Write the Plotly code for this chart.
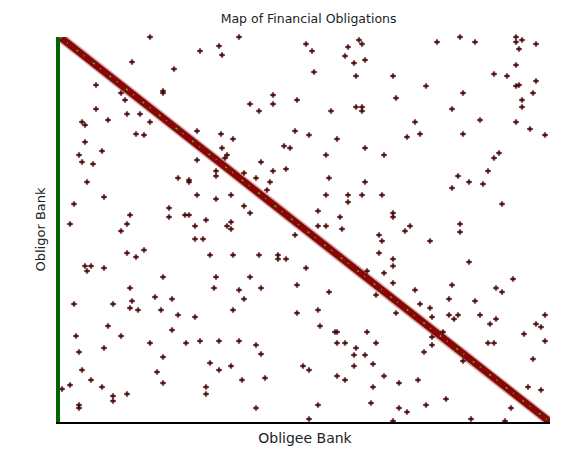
import plotly.graph_objects as go

# Matrix size (obligee index along x, obligor index along y)
n_obligee = 490
n_obligor = 385

# Off-diagonal obligations: (obligee index, obligor index)
obligee = [
    90, 179, 159, 162, 140, 72, 114, 36, 103, 103, 61, 65, 213, 237, 190, 213, 199, 36, 67, 80,
    22, 25, 48, 90, 76, 84, 235, 137, 161, 173, 25, 42, 224, 230, 19, 22, 33, 162, 167, 165,
    137, 201, 213, 226, 156, 156, 184, 196, 118, 129, 129, 210, 27, 44, 137, 171, 207, 156, 14, 184,
    190, 109, 109, 70, 125, 129, 146, 171, 171, 167, 67, 10, 135,
    246, 252, 254, 299, 302, 288, 285, 294, 305, 296, 333, 377, 400, 415, 456, 456, 462, 476, 459, 456,
    434, 447, 476, 456, 459, 473, 462, 462, 403, 366, 336, 392, 420, 456, 470, 485, 403, 355, 360, 347,
    271, 296, 302, 302, 249, 277, 305, 324, 266, 269, 305, 266, 288, 302, 322, 288, 258, 280, 333, 333,
    258, 266, 282, 350, 400, 439, 434, 428, 398, 409, 423, 392, 442,
    61, 135, 143, 235, 67, 76, 84, 25, 31, 27, 44, 150, 173, 199, 218, 218, 226, 103, 156, 190,
    70, 154, 179, 201, 237, 14, 53, 72, 70, 78, 95, 112, 101, 184, 173, 118, 135, 237, 48, 16,
    61, 112, 44, 19, 90, 126, 140, 159, 179, 196, 201, 103, 22, 31, 10, 2, 42, 53, 53, 67,
    97, 103, 150, 159, 171, 182, 205, 146, 146, 19, 19, 196, 243,
    319, 322, 319, 345, 370, 400, 409, 333, 333, 246, 307, 324, 333, 453, 392, 436, 442, 355, 316, 269,
    389, 415, 360, 370, 336, 372, 389, 398, 394, 420, 436, 430, 485, 476, 481, 485, 464, 258, 260, 275,
    277, 307, 277, 285, 316, 296, 294, 305, 294, 313, 249, 277, 285, 324, 313, 339, 358, 364, 372, 383,
    372, 403, 428, 434, 473, 468, 481, 386, 366, 258, 311, 339, 347, 451, 249, 333, 411, 445,
]
obligor = [
    0, 0, 9, 18, 14, 25, 32, 48, 54, 56, 56, 63, 58, 63, 67, 67, 74, 72, 77, 77,
    85, 88, 83, 85, 97, 98, 94, 94, 97, 102, 105, 114, 109, 111, 118, 125, 127, 111, 118, 121,
    123, 125, 134, 132, 134, 139, 136, 141, 141, 143, 145, 145, 145, 160, 158, 158, 153, 162, 167, 169,
    176, 171, 180, 178, 178, 178, 183, 185, 192, 189, 187, 187, 189,
    7, 14, 35, 3, 7, 10, 19, 26, 23, 39, 39, 5, 0, 5, 0, 5, 3, 7, 12, 28,
    37, 39, 44, 49, 48, 56, 63, 70, 56, 49, 61, 72, 83, 85, 92, 98, 97, 85, 97, 100,
    74, 70, 70, 74, 98, 102, 111, 118, 118, 141, 145, 158, 158, 158, 158, 165, 174, 180, 176, 180,
    189, 189, 192, 189, 187, 116, 121, 134, 139, 145, 147, 151, 167,
    194, 202, 202, 198, 216, 220, 213, 229, 229, 234, 231, 218, 218, 218, 218, 222, 222, 240, 240, 240,
    251, 251, 253, 251, 248, 267, 267, 264, 271, 273, 260, 262, 273, 262, 273, 278, 280, 276, 289, 299,
    299, 293, 311, 315, 306, 306, 304, 304, 304, 308, 317, 320, 333, 343, 348, 352, 350, 359, 364, 357,
    335, 346, 326, 333, 329, 343, 341, 350, 357, 368, 371, 371, 329,
    198, 204, 216, 194, 204, 195, 225, 222, 229, 231, 234, 236, 246, 242, 248, 251, 255, 253, 258, 255,
    262, 264, 267, 271, 276, 280, 278, 278, 282, 278, 282, 287, 278, 287, 290, 304, 297, 273, 289, 295,
    295, 295, 306, 306, 306, 311, 318, 318, 329, 327, 333, 339, 343, 339, 350, 346, 343, 315, 308, 295,
    300, 324, 306, 306, 322, 350, 353, 362, 368, 368, 366, 371, 375, 371, 382, 384, 382, 384,
]

# Diagonal (self/neighbour obligations) from first to last bank
diag_obligee = [0, n_obligee]
diag_obligor = [0, n_obligor]

fig = go.Figure()

# Diagonal band: soft edge, dark-red core and green specks
fig.add_trace(go.Scatter(x=diag_obligee, y=diag_obligor, mode="lines",
                         line=dict(color="rgba(175,80,80,0.45)", width=10),
                         hoverinfo="skip", showlegend=False, cliponaxis=False))
fig.add_trace(go.Scatter(x=diag_obligee, y=diag_obligor, mode="lines",
                         line=dict(color="rgb(138,6,6)", width=7),
                         hoverinfo="skip", showlegend=False, cliponaxis=False))
fig.add_trace(go.Scatter(x=diag_obligee, y=diag_obligor, mode="lines",
                         line=dict(color="rgb(30,210,30)", width=1.5, dash="2px,7px,1px,11px"),
                         hoverinfo="skip", showlegend=False, cliponaxis=False))

# Off-diagonal points: soft halo then small cross
fig.add_trace(go.Scatter(x=obligee, y=obligor, mode="markers",
                         marker=dict(symbol="circle", size=5, color="rgba(160,90,100,0.45)",
                                     line=dict(width=0)),
                         hoverinfo="skip", showlegend=False, cliponaxis=False))
fig.add_trace(go.Scatter(x=obligee, y=obligor, mode="markers",
                         marker=dict(symbol="cross-thin", size=4,
                                     line=dict(color="rgb(60,0,0)", width=1.3)),
                         showlegend=False, cliponaxis=False))

font_family = "DejaVu Sans, Verdana, sans-serif"
# The page body has an 8px default margin, so the figure is sized to fit inside it.
fig.update_layout(
    width=578, height=467, autosize=False,
    paper_bgcolor="white", plot_bgcolor="white",
    margin=dict(l=52, r=36, t=29, b=53),
    title=dict(text="Map of Financial Obligations", x=0.52, xanchor="center",
               y=1 - 11 / 467, yanchor="middle",
               font=dict(family=font_family, size=12.5, color="#222")),
    xaxis=dict(range=[0, n_obligee], showgrid=False, zeroline=False,
               showticklabels=False, ticks="", showline=True,
               linecolor="black", linewidth=2,
               title=dict(text="Obligee Bank", standoff=10,
                          font=dict(family=font_family, size=14, color="#222"))),
    yaxis=dict(range=[n_obligor, 0], showgrid=False, zeroline=False,
               showticklabels=False, ticks="", showline=True,
               linecolor="rgb(0,100,0)", linewidth=4,
               title=dict(text="Obligor Bank", standoff=8,
                          font=dict(family=font_family, size=13, color="#222"))),
)

fig.write_html("out.html")
